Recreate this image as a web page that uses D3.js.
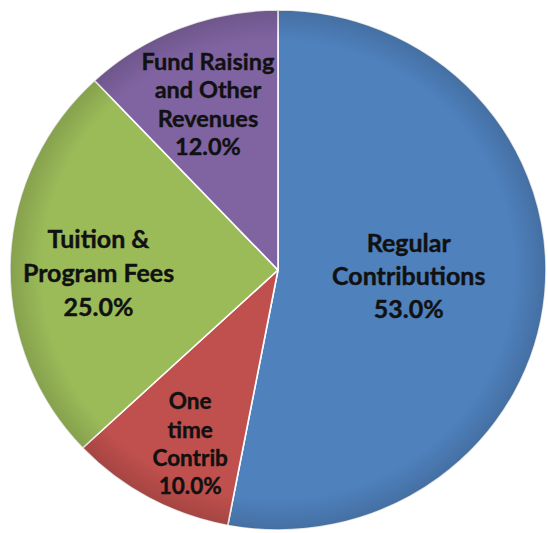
<!DOCTYPE html>
<html><head><meta charset="utf-8">
<script src="https://cdn.jsdelivr.net/npm/d3@7"></script>
<style>html,body{margin:0;padding:0;background:#fff;overflow:hidden}</style>
</head><body>
<svg id="chart" width="548" height="533"></svg>
<script>
// ---- data ----
const categories = ["Regular Contributions", "One time Contrib", "Tuition & Program Fees", "Fund Raising and Other Revenues"];
const values = [53.0, 10.0, 25.0, 12.0];
const labelLines = [
  ["Regular", "Contributions"],
  ["One", "time", "Contrib"],
  ["Tuition &", "Program Fees"],
  ["Fund Raising", "and Other", "Revenues"]
];
const colors = ["#4F81BD", "#C0504D", "#9BBB59", "#8064A2"];

// ---- layout ----
const W = 548, H = 533;
const cx = 278, cy = 270, rx = 268, ry = 260;
const labelStyle = [
  {f: 0.49, dy: -6, fs: 25, lh: 33},
  {f: 0.68, dy: 19, fs: 22.5, lh: 28.3},
  {f: 0.67, dy: 9, fs: 25, lh: 34},
  {f: 0.71, dy: 6, fs: 23.5, lh: 28.5}
];

const svg = d3.select("#chart");
const defs = svg.append("defs");
const grad = defs.append("radialGradient").attr("id", "rim")
  .attr("cx", "50%").attr("cy", "50%").attr("r", "50%");
grad.append("stop").attr("offset", "88%").attr("stop-color", "#000").attr("stop-opacity", 0);
grad.append("stop").attr("offset", "100%").attr("stop-color", "#000").attr("stop-opacity", 0.14);

const pie = d3.pie().sort(null).value(d => d)(values);
const arc = d3.arc().innerRadius(0).outerRadius(rx);

const g = svg.append("g").attr("transform", `translate(${cx},${cy}) scale(1,${ry / rx})`);
g.selectAll("path.slice").data(pie).join("path")
  .attr("class", "slice")
  .attr("d", arc)
  .attr("fill", (d, i) => colors[i])
  .attr("stroke", "#fff")
  .attr("stroke-width", 1.6)
  .attr("stroke-linejoin", "round");
g.append("circle").attr("r", rx).attr("fill", "url(#rim)").attr("pointer-events", "none");

const fmt = d3.format(".1f");
const labels = svg.append("g")
  .attr("font-family", "Lato, 'Open Sans', sans-serif")
  .attr("font-weight", "bold")
  .attr("fill", "#111")
  .attr("stroke", "#111")
  .attr("stroke-width", 0.4)
  .attr("text-anchor", "middle");

pie.forEach((d, i) => {
  const s = labelStyle[i];
  const a = (d.startAngle + d.endAngle) / 2;
  const x = cx + s.f * rx * Math.sin(a);
  const y = cy - s.f * ry * Math.cos(a) + s.dy;
  const lines = labelLines[i].concat([fmt(values[i]) + "%"]);
  const n = lines.length;
  const t = labels.append("text").attr("font-size", s.fs);
  lines.forEach((ln, k) => {
    t.append("tspan").attr("x", x)
      .attr("y", y + (k - (n - 1) / 2) * s.lh + 0.35 * s.fs)
      .text(ln);
  });
});
</script>
</body></html>
